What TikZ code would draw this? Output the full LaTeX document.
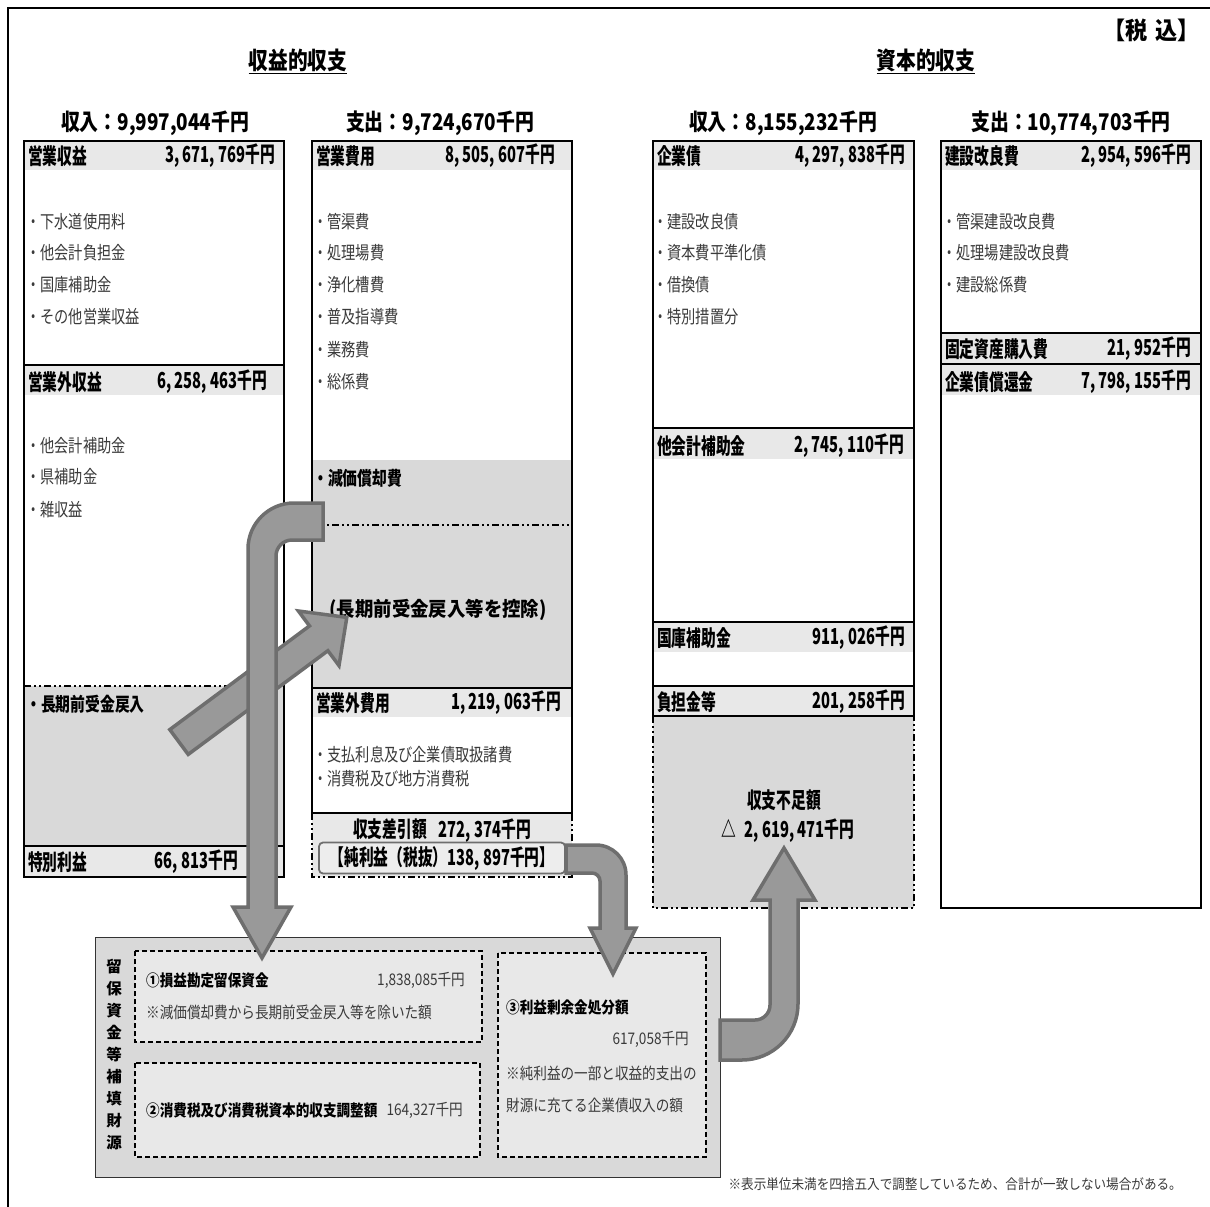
\documentclass[tikz,border=0pt]{standalone}
\usepackage{fontspec}
\newfontfamily\jp{Noto Sans CJK JP}
\newfontfamily\jpT[FakeStretch=0.82]{Noto Sans CJK JP}
\newfontfamily\jpH[FakeStretch=0.67]{Noto Sans CJK JP}
\newfontfamily\jpW[FakeStretch=0.92]{Noto Sans CJK JP}
\newfontfamily\jpI[FakeStretch=0.79]{Noto Sans CJK JP}
\newfontfamily\jpB[FakeStretch=0.78]{Noto Sans CJK JP}
\newfontfamily\jpS[FakeStretch=0.85]{Noto Sans CJK JP}
\newfontfamily\jpF[FakeStretch=0.9]{Noto Sans CJK JP}
\newcommand\kyen{千円}
\newcommand\kc{,\kern3.5pt}
\definecolor{bandc}{HTML}{E8E8E8}
\definecolor{shadec}{HTML}{D9D9D9}
\definecolor{arrfill}{HTML}{999999}
\definecolor{arrline}{HTML}{6E6E6E}
\definecolor{itemc}{HTML}{3A3A3A}
\definecolor{pillc}{HTML}{EDEDED}
\tikzset{
  boxline/.style={line width=2.6pt, line cap=rect},
  ddot/.style={line width=1.8pt, dash pattern=on 7pt off 3pt on 2pt off 3pt on 2pt off 3pt},
  thindash/.style={line width=1.3pt, dash pattern=on 5pt off 3pt},
  ttl/.style={font=\jpT\bfseries\fontsize{24}{24}\selectfont, inner sep=0pt},
  coltitle/.style={font=\jpT\bfseries\fontsize{23}{23}\selectfont, inner sep=0pt},
  hdrl/.style={font=\jpH\bfseries\fontsize{22}{22}\selectfont, inner sep=0pt, anchor=west},
  hdrr/.style={font=\jpH\bfseries\fontsize{22}{22}\selectfont, inner sep=0pt, anchor=east},
  hdrc/.style={font=\jpH\bfseries\fontsize{22}{22}\selectfont, inner sep=0pt},
  itm/.style={font=\jpI\fontsize{18}{18}\selectfont, text=itemc, inner sep=0pt, anchor=west},
  bitm/.style={font=\jpB\bfseries\fontsize{19}{19}\selectfont, inner sep=0pt, anchor=west},
  smb/.style={font=\jpS\bfseries\fontsize{16}{16}\selectfont, inner sep=0pt, anchor=west},
  smr/.style={font=\jpS\fontsize{16}{16}\selectfont, text=itemc, inner sep=0pt, anchor=west},
  smrr/.style={font=\jpS\fontsize{16}{16}\selectfont, text=itemc, inner sep=0pt, anchor=east},
  arrowshape/.style={fill=arrfill, draw=arrline, line width=3.5pt, line join=miter},
}
\begin{document}
\begin{tikzpicture}[x=1pt,y=-1pt]
\useasboundingbox (0,0) rectangle (1210,1207);
\fill[white] (0,0) rectangle (1210,1207);
% outer frame
\draw[line width=1.6pt] (8,1207) -- (8,8) -- (1210,8);

% titles
\node[ttl] (t1) at (298,60) {収益的収支};
\node[ttl] (t2) at (926,60) {資本的収支};
\draw[line width=1.5pt] ([yshift=-2pt]t1.south west) -- ([yshift=-2pt]t1.south east);
\draw[line width=1.5pt] ([yshift=-2pt]t2.south west) -- ([yshift=-2pt]t2.south east);
\node[font=\jpW\bfseries\fontsize{24}{24}\selectfont, inner sep=0pt, anchor=east] (tax) at (1200,30) {【税\hspace{8pt}込】};

\node[coltitle] (c1t) at (155,123) {収入：9,997,044千円};
\node[coltitle] (c2t) at (440,123) {支出：9,724,670千円};
\node[coltitle] (c3t) at (783,123) {収入：8,155,232千円};
\node[coltitle] (c4t) at (1071,123) {支出：10,774,703千円};

% ---------- column 1 ----------
\fill[bandc] (24,141) rectangle (284,170);
\fill[bandc] (24,365) rectangle (284,395);
\fill[shadec] (24,686) rectangle (284,846);
\fill[bandc] (24,846) rectangle (284,877);
\draw[boxline] (24,141) rectangle (284,877);
\draw[boxline] (24,365) -- (284,365);
\draw[ddot] (24,686) -- (284,686);
\draw[boxline] (24,846) -- (284,846);
\node[hdrl] (a1) at (28,156) {営業収益};
\node[hdrr] (a1v) at (275,156) {3\kc671\kc769\kyen};
\node[itm] (a1i1) at (26,222) {・下水道使用料};
\node[itm] (a1i2) at (26,253) {・他会計負担金};
\node[itm] (a1i3) at (26,285) {・国庫補助金};
\node[itm] (a1i4) at (26,317) {・その他営業収益};
\node[hdrl] (a2) at (28,382) {営業外収益};
\node[hdrr] (a2v) at (267,382) {6\kc258\kc463\kyen};
\node[itm] (a2i1) at (26,446) {・他会計補助金};
\node[itm] (a2i2) at (26,477) {・県補助金};
\node[itm] (a2i3) at (26,510) {・雑収益};
\node[bitm] (a3) at (26,704) {・長期前受金戻入};
\node[hdrl] (a4) at (28,862) {特別利益};
\node[hdrr] (a4v) at (238,862) {66\kc813\kyen};

% ---------- column 2 ----------
\fill[bandc] (312,141) rectangle (572,170);
\fill[shadec] (312,460) rectangle (572,688);
\fill[bandc] (312,688) rectangle (572,717);
\fill[bandc] (312,813) rectangle (572,877);
\draw[boxline] (312,813) -- (312,141) -- (572,141) -- (572,813);
\draw[boxline] (312,688) -- (572,688);
\draw[boxline] (312,813) -- (572,813);
\draw[ddot] (312,525) -- (572,525);
\draw[ddot] (312,813) -- (312,877) -- (572,877) -- (572,813);
\node[hdrl] (b1) at (316,156) {営業費用};
\node[hdrr] (b1v) at (555,156) {8\kc505\kc607\kyen};
\node[itm] (b1i1) at (313,222) {・管渠費};
\node[itm] (b1i2) at (313,253) {・処理場費};
\node[itm] (b1i3) at (313,285) {・浄化槽費};
\node[itm] (b1i4) at (313,317) {・普及指導費};
\node[itm] (b1i5) at (313,350) {・業務費};
\node[itm] (b1i6) at (313,382) {・総係費};
\node[bitm] (b2) at (313,478) {・減価償却費};
\node[font=\jpW\bfseries\fontsize{20}{20}\selectfont, inner sep=0pt] (b3) at (438,610) {(長期前受金戻入等を控除)};
\node[hdrl] (b4) at (316,703) {営業外費用};
\node[hdrr] (b4v) at (561,703) {1\kc219\kc063\kyen};
\node[itm] (b4i1) at (313,755) {・支払利息及び企業債取扱諸費};
\node[itm] (b4i2) at (313,779) {・消費税及び地方消費税};
\node[hdrc] (b5) at (442,831) {収支差引額\hspace{12pt}272\kc374\kyen};
\node[draw=arrline, fill=pillc, line width=1.8pt, rounded corners=4pt, minimum width=246pt, minimum height=31pt, inner sep=0pt,
      font=\jpH\bfseries\fontsize{22}{22}\selectfont] (b6) at (442,858) {【純利益（税抜）138\kc897\kyen】};

% ---------- column 3 ----------
\fill[bandc] (653,141) rectangle (914,170);
\fill[bandc] (653,428) rectangle (914,459);
\fill[bandc] (653,622) rectangle (914,652);
\fill[bandc] (653,686) rectangle (914,716);
\fill[shadec] (653,716) rectangle (914,908);
\draw[boxline] (653,716) -- (653,141) -- (914,141) -- (914,716);
\draw[boxline] (653,428) -- (914,428);
\draw[boxline] (653,622) -- (914,622);
\draw[boxline] (653,686) -- (914,686);
\draw[boxline] (653,716) -- (914,716);
\draw[ddot] (653,716) -- (653,908) -- (914,908) -- (914,716);
\node[hdrl] (c1) at (657,156) {企業債};
\node[hdrr] (c1v) at (905,156) {4\kc297\kc838\kyen};
\node[itm] (c1i1) at (653,222) {・建設改良債};
\node[itm] (c1i2) at (653,253) {・資本費平準化債};
\node[itm] (c1i3) at (653,285) {・借換債};
\node[itm] (c1i4) at (653,317) {・特別措置分};
\node[hdrl] (c2) at (657,446) {他会計補助金};
\node[hdrr] (c2v) at (904,446) {2\kc745\kc110\kyen};
\node[hdrl] (c3) at (657,638) {国庫補助金};
\node[hdrr] (c3v) at (905,638) {911\kc026\kyen};
\node[hdrl] (c4) at (657,702) {負担金等};
\node[hdrr] (c4v) at (905,702) {201\kc258\kyen};
\node[hdrc] (c5) at (784,800) {収支不足額};
\node[hdrc] (c6) at (788,831) {△\hspace{8pt}2\kc619\kc471\kyen};

% ---------- column 4 ----------
\fill[bandc] (941,141) rectangle (1201,170);
\fill[bandc] (941,333) rectangle (1201,363);
\fill[bandc] (941,365) rectangle (1201,395);
\draw[boxline] (941,141) rectangle (1201,908);
\draw[boxline] (941,333) -- (1201,333);
\draw[boxline] (941,364) -- (1201,364);
\node[hdrl] (d1) at (945,156) {建設改良費};
\node[hdrr] (d1v) at (1191,156) {2\kc954\kc596\kyen};
\node[itm] (d1i1) at (942,222) {・管渠建設改良費};
\node[itm] (d1i2) at (942,253) {・処理場建設改良費};
\node[itm] (d1i3) at (942,285) {・建設総係費};
\node[hdrl] (d2) at (945,349) {固定資産購入費};
\node[hdrr] (d2v) at (1191,349) {21\kc952\kyen};
\node[hdrl] (d3) at (945,382) {企業債償還金};
\node[hdrr] (d3v) at (1191,382) {7\kc798\kc155\kyen};

% ---------- bottom box ----------
\draw[fill=shadec, draw=black!80, line width=1pt] (95,937) rectangle (720,1177);
\draw[thindash, fill=bandc] (135,951) rectangle (482,1042);
\draw[thindash, fill=bandc] (135,1063) rectangle (480,1157);
\draw[thindash, fill=bandc] (498,953) rectangle (706,1157);
\node[font=\jp\bfseries\fontsize{15.5}{22}\selectfont, align=center, inner sep=0pt] (vt) at (114,1055)
  {留\\保\\資\\金\\等\\補\\填\\財\\源};
\node[smb] (e1) at (146,980) {①損益勘定留保資金};
\node[smrr] (e1v) at (465,980) {1,838,085千円};
\node[smr] (e1n) at (146,1012) {※減価償却費から長期前受金戻入等を除いた額};
\node[smb] (e2) at (146,1110) {②消費税及び消費税資本的収支調整額};
\node[smrr] (e2v) at (463,1110) {164,327千円};
\node[smb] (e3) at (506,1007) {③利益剰余金処分額};
\node[smrr] (e3v) at (689,1039) {617,058千円};
\node[smr] (e3n1) at (506,1073) {※純利益の一部と収益的支出の};
\node[smr] (e3n2) at (506,1105) {財源に充てる企業債収入の額};

\node[font=\jpF\fontsize{14}{14}\selectfont, text=itemc, inner sep=0pt, anchor=east] (fn) at (1182,1184)
  {※表示単位未満を四捨五入で調整しているため、合計が一致しない場合がある。};

% ---------- arrows ----------
% diagonal arrow (long-term deferred revenue -> deduction)
\draw[arrowshape] (169.8,729.6) -- (309.5,625.9) -- (298.4,611.0) -- (346.8,617.4)
  -- (339.0,665.6) -- (327.9,650.7) -- (188.2,754.4) -- cycle;
% bent arrow (depreciation -> 1)
\draw[arrowshape] (323,503) -- (294,503) .. controls (268.6,503) and (248,523.6) .. (248,549)
  -- (248,907) -- (233,907) -- (262,958) -- (291,907) -- (276,907) -- (276,556)
  .. controls (276,547.2) and (283.2,540) .. (292,540) -- (323,540) -- cycle;
% arrow from net profit -> 3
\draw[arrowshape] (566,845) -- (596,845) .. controls (612.6,845) and (626,858.4) .. (626,875)
  -- (626,928) -- (636,928) -- (613,974) -- (590,928) -- (600,928) -- (600,881)
  .. controls (600,876.6) and (596.4,873) .. (592,873) -- (566,873) -- cycle;
% arrow from 3 -> shortfall
\draw[arrowshape] (720,1020) -- (755,1020) .. controls (763.3,1020) and (770,1013.3) .. (770,1005)
  -- (770,900) -- (753,900) -- (784,848) -- (815,900) -- (798,900) -- (798,1004)
  .. controls (798,1034.9) and (772.9,1060) .. (742,1060) -- (720,1060) -- cycle;
\end{tikzpicture}
\end{document}
